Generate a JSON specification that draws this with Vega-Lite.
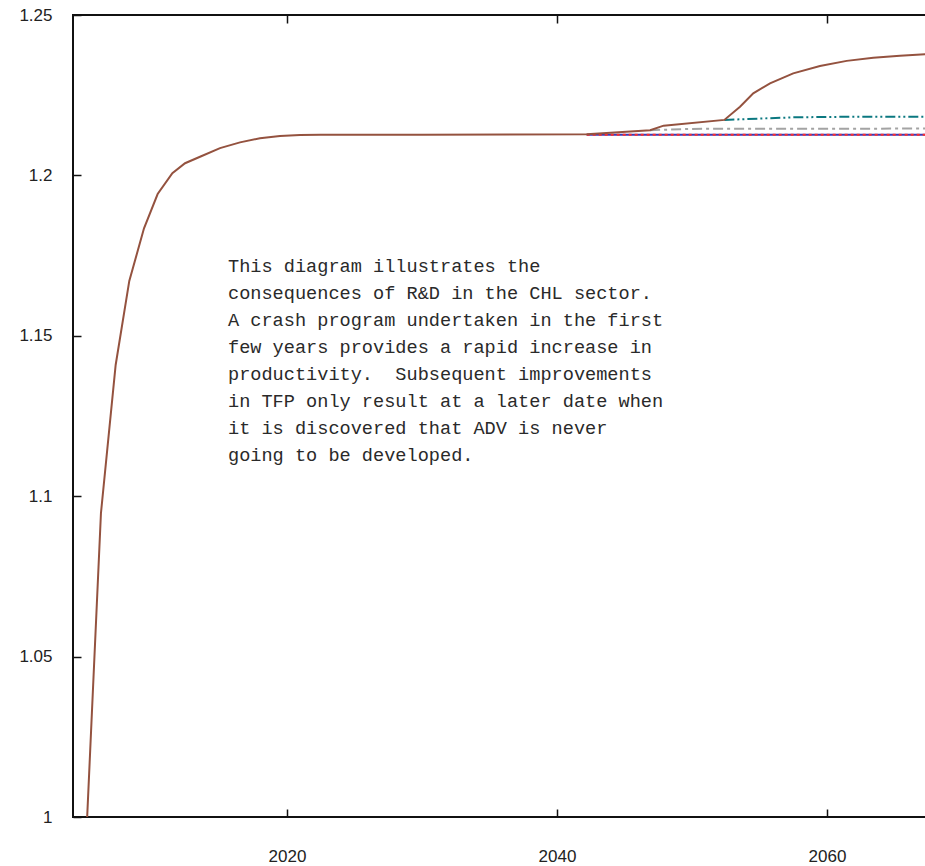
{
  "$schema": "https://vega.github.io/schema/vega-lite/v6.json",
  "autosize": "none",
  "width": 854,
  "height": 802,
  "padding": {"left": 73, "top": 15, "right": 0, "bottom": 49},
  "background": "white",
  "config": {
    "view": {"stroke": "#111", "strokeWidth": 2},
    "axis": {
      "grid": false,
      "domain": false,
      "tickSize": -8,
      "tickColor": "#111",
      "tickWidth": 1.5,
      "labelFont": "Liberation Sans",
      "labelFontSize": 17,
      "labelColor": "#222",
      "title": null
    }
  },
  "datasets": {
    "series": [
      {"series": "brown", "year": 2005.2, "value": 1.0},
      {"series": "brown", "year": 2006.22, "value": 1.0947},
      {"series": "brown", "year": 2007.31, "value": 1.1409},
      {"series": "brown", "year": 2008.32, "value": 1.1671},
      {"series": "brown", "year": 2009.41, "value": 1.1835},
      {"series": "brown", "year": 2010.42, "value": 1.1942},
      {"series": "brown", "year": 2011.51, "value": 1.2007},
      {"series": "brown", "year": 2012.45, "value": 1.2038},
      {"series": "brown", "year": 2013.56, "value": 1.2058},
      {"series": "brown", "year": 2015.04, "value": 1.2085},
      {"series": "brown", "year": 2016.52, "value": 1.2103},
      {"series": "brown", "year": 2018.0, "value": 1.2116},
      {"series": "brown", "year": 2019.48, "value": 1.2123},
      {"series": "brown", "year": 2020.97, "value": 1.2126},
      {"series": "brown", "year": 2022.5, "value": 1.2127},
      {"series": "brown", "year": 2030.0, "value": 1.2127},
      {"series": "brown", "year": 2042.2, "value": 1.2128},
      {"series": "brown", "year": 2046.9, "value": 1.2141},
      {"series": "brown", "year": 2047.9, "value": 1.2155},
      {"series": "brown", "year": 2052.4, "value": 1.2173},
      {"series": "brown", "year": 2053.56, "value": 1.2214},
      {"series": "brown", "year": 2054.54, "value": 1.2256},
      {"series": "brown", "year": 2055.78, "value": 1.2287},
      {"series": "brown", "year": 2057.5, "value": 1.2318},
      {"series": "brown", "year": 2059.48, "value": 1.2341},
      {"series": "brown", "year": 2061.46, "value": 1.2357},
      {"series": "brown", "year": 2063.43, "value": 1.2367},
      {"series": "brown", "year": 2065.41, "value": 1.2373},
      {"series": "brown", "year": 2067.4, "value": 1.2378},
      {"series": "teal", "year": 2052.4, "value": 1.2173},
      {"series": "teal", "year": 2057.5, "value": 1.2181},
      {"series": "teal", "year": 2062.0, "value": 1.2183},
      {"series": "teal", "year": 2067.4, "value": 1.2183},
      {"series": "gray", "year": 2046.9, "value": 1.2141},
      {"series": "gray", "year": 2050.0, "value": 1.2145},
      {"series": "gray", "year": 2067.4, "value": 1.2146},
      {"series": "blue", "year": 2042.2, "value": 1.2127},
      {"series": "blue", "year": 2067.4, "value": 1.2127},
      {"series": "red", "year": 2042.2, "value": 1.2127},
      {"series": "red", "year": 2067.4, "value": 1.2127}
    ],
    "note": [
      {"text": "This diagram illustrates the\nconsequences of R&D in the CHL sector.\nA crash program undertaken in the first\nfew years provides a rapid increase in\nproductivity.\u00a0 Subsequent improvements\nin TFP only result at a later date when\nit is discovered that ADV is never\ngoing to be developed."}
    ]
  },
  "layer": [
    {
      "data": {"name": "series"},
      "encoding": {
        "x": {"field": "year", "type": "quantitative",
              "scale": {"domain": [2004.15, 2067.41], "nice": false, "zero": false},
              "axis": {"values": [2020, 2040, 2060], "format": "d", "labelPadding": 39}},
        "y": {"field": "value", "type": "quantitative",
              "scale": {"domain": [1, 1.25], "nice": false, "zero": false},
              "axis": {"values": [1, 1.05, 1.1, 1.15, 1.2, 1.25], "format": ".3~g", "labelPadding": 29}}
      },
      "layer": [
        {"transform": [{"filter": "datum.series === 'blue'"}],
         "mark": {"type": "line", "color": "#3a3ab8", "strokeWidth": 2, "clip": true}},
        {"transform": [{"filter": "datum.series === 'red'"}],
         "mark": {"type": "line", "color": "#ff2d2d", "strokeWidth": 2, "strokeDash": [3, 3], "clip": true}},
        {"transform": [{"filter": "datum.series === 'gray'"}],
         "mark": {"type": "line", "color": "#a3a3a3", "strokeWidth": 2, "strokeDash": [10, 4, 3, 4], "clip": true}},
        {"transform": [{"filter": "datum.series === 'teal'"}],
         "mark": {"type": "line", "color": "#0b7880", "strokeWidth": 2, "strokeDash": [10, 3, 2, 3, 2, 3], "clip": true}},
        {"transform": [{"filter": "datum.series === 'brown'"}],
         "mark": {"type": "line", "color": "#94523f", "strokeWidth": 2, "clip": true}}
      ]
    },
    {
      "data": {"name": "note"},
      "mark": {"type": "text", "font": "Liberation Mono", "fontSize": 18.6, "lineHeight": 27,
               "align": "left", "baseline": "top", "color": "#2a2a2a", "lineBreak": "\n"},
      "encoding": {
        "x": {"datum": 2015.63, "type": "quantitative",
              "scale": {"domain": [2004.15, 2067.41], "nice": false, "zero": false},
              "axis": {"orient": "top", "values": [2020, 2040, 2060], "labels": false}},
        "y": {"datum": 1.1745, "type": "quantitative",
              "scale": {"domain": [1, 1.25], "nice": false, "zero": false},
              "axis": null},
        "text": {"field": "text"}
      }
    }
  ],
  "resolve": {"axis": {"x": "independent", "y": "independent"}}
}
